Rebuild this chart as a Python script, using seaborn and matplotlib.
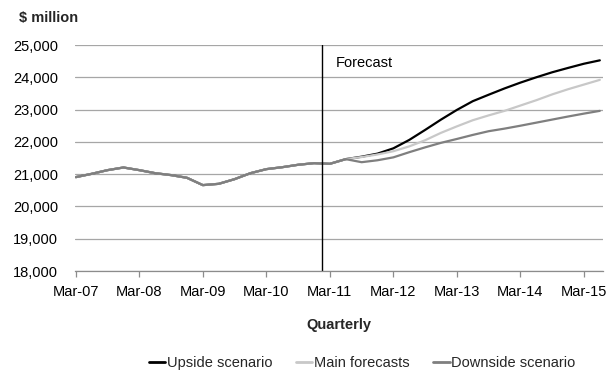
import numpy as np
import pandas as pd
import matplotlib
matplotlib.use("Agg")
import matplotlib.pyplot as plt
import seaborn as sns

# ---- data ----
quarters = []
for yr in range(7, 16):
    for m in ["Mar", "Jun", "Sep", "Dec"]:
        quarters.append(f"{m}-{yr:02d}")
quarters = quarters[:34]  # Mar-07 .. Jun-15

history = [20907, 21010, 21124, 21206, 21124, 21030, 20970, 20887, 20660,
           20700, 20845, 21030, 21155, 21215, 21290, 21340, 21320, 21465]
upside_fc = [21540, 21635, 21800, 22060, 22370, 22690, 22990, 23260, 23460,
             23655, 23835, 24000, 24155, 24290, 24420, 24525]
main_fc = [21530, 21610, 21710, 21860, 22050, 22280, 22480, 22670, 22820,
           22960, 23125, 23290, 23470, 23630, 23775, 23920]
downside_fc = [21370, 21430, 21520, 21680, 21830, 21970, 22090, 22215, 22330,
               22410, 22500, 22595, 22690, 22785, 22875, 22960]

series_names = ["Upside scenario", "Main forecasts", "Downside scenario"]
series_values = [history + upside_fc, history + main_fc, history + downside_fc]
colors = ["#000000", "#c8c8c8", "#7f7f7f"]

tick_labels = ["Mar-07", "Mar-08", "Mar-09", "Mar-10", "Mar-11",
               "Mar-12", "Mar-13", "Mar-14", "Mar-15"]
y_ticks = [18000, 19000, 20000, 21000, 22000, 23000, 24000, 25000]
forecast_start = 15.5

rows = []
for name, vals in zip(series_names, series_values):
    for i, v in enumerate(vals):
        rows.append({"idx": i, "quarter": quarters[i], "value": v, "series": name})
df = pd.DataFrame(rows)

# ---- style ----
sns.set_theme(style="white")
plt.rcParams["font.family"] = ["Liberation Sans", "DejaVu Sans"]
plt.rcParams["font.size"] = 10.5

fig = plt.figure(figsize=(6.12, 3.72), dpi=100)
ax = fig.add_axes([75 / 612, 1 - 271 / 372, (603 - 75) / 612, (271 - 45) / 372])

sns.lineplot(data=df, x="idx", y="value", hue="series", hue_order=series_names,
             palette=colors, linewidth=1.6, ax=ax, legend=True)

ax.set_xlim(-0.05, 33.2)
ax.set_ylim(18000, 25000)
ax.set_yticks(y_ticks)
ax.set_yticklabels([f"{v:,}" for v in y_ticks], fontsize=10.5, color="#000000")
ax.set_xticks(list(range(0, 33, 4)))
ax.set_xticklabels(tick_labels, fontsize=10.5, color="#000000")

ax.grid(axis="y", color="#a6a6a6", linewidth=0.9)
ax.grid(axis="x", visible=False)
for s in ["top", "right", "left"]:
    ax.spines[s].set_visible(False)
ax.spines["bottom"].set_color("#8c8c8c")
ax.spines["bottom"].set_linewidth(0.9)
ax.tick_params(axis="x", which="major", direction="out", length=4, width=0.9,
               color="#8c8c8c", pad=6, bottom=True)
ax.tick_params(axis="y", length=0, pad=12)

ax.axvline(forecast_start, color="#000000", linewidth=1.0)
ax.text(16.35, 24450, "Forecast", fontsize=10.5, ha="left", va="center", color="#000000")

ax.set_xlabel("Quarterly", fontsize=10.5, fontweight="bold", labelpad=14)
ax.set_ylabel("")
fig.text(19 / 612, 1 - 18 / 372, "$ million", fontsize=10.5, fontweight="bold",
         ha="left", va="center")

leg = ax.legend(loc="center", bbox_to_anchor=(362 / 612, 1 - 363 / 372),
                bbox_transform=fig.transFigure, ncol=3, frameon=False,
                handlelength=1.15, handletextpad=0.1, columnspacing=1.6,
                fontsize=10.5, borderaxespad=0)
for line in leg.get_lines():
    line.set_linewidth(2.0)

fig.savefig("out.png", dpi=100)
